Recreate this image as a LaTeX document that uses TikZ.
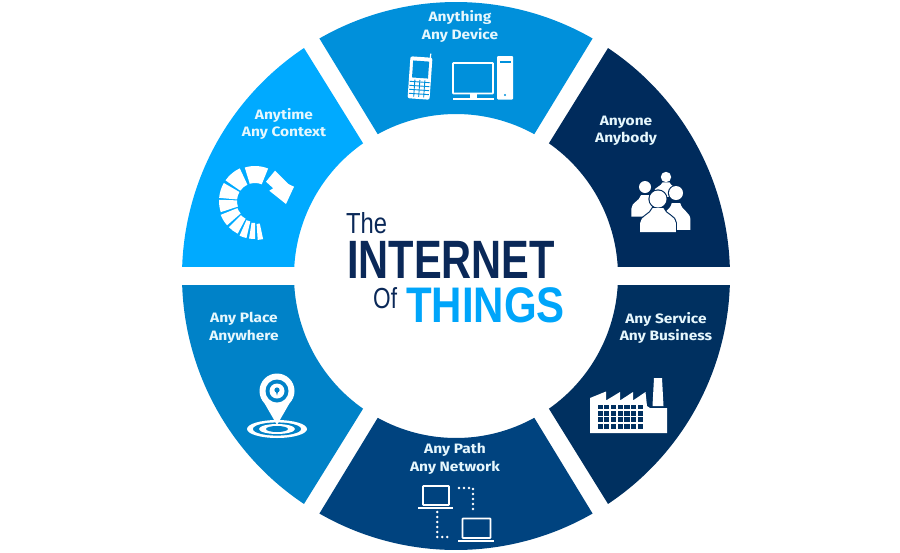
\documentclass[tikz,border=0pt]{standalone}
\usepackage{fontspec}
\usepackage{tikz}
\newfontfamily\titlefont{Liberation Sans}
\newfontfamily\labelfont{Fira Sans}
\definecolor{topblue}{RGB}{0,144,219}
\definecolor{skyblue}{RGB}{0,170,255}
\definecolor{navy}{RGB}{0,43,92}
\definecolor{navytwo}{RGB}{0,48,96}
\definecolor{midblue}{RGB}{0,67,127}
\definecolor{placeblue}{RGB}{0,130,200}
\definecolor{titledark}{RGB}{10,40,88}
\definecolor{titlesky}{RGB}{0,165,250}
\tikzset{
        partlabel/.style={align=center,text=white!90!cyan,inner sep=0,xscale=1.14,transform shape,font=\labelfont\bfseries\fontsize{13.6}{17.5}\selectfont},
        titleword/.style={anchor=base west,inner sep=0,transform shape},
        outline/.style={draw=white,line width=1.6,rounded corners=0.6},
        dots/.style={draw=white,line width=2.8,line cap=round,dash pattern=on 0pt off 5pt}
}
% one part of the ring: colour, outer angles, inner angles
\newcommand{\ringpart}[5]{\fill[#1] (#2:274) arc[start angle=#2,end angle=#3,radius=274] -- (#5:162) arc[start angle=#5,end angle=#4,radius=162] -- cycle;}
% head at (#1,#2), body scaled by #3 and #4, head radius #5
\newcommand{\person}[5]{\begin{scope}[shift={(#1,#2)}]
        \draw[navy,fill=navy,line width=2.2] (-17*#3,33*#4) -- (-17*#3,24*#4) .. controls (-17*#3,17*#4) and (-7*#3,16*#4) .. (-5*#3,9*#4) -- (5*#3,9*#4) .. controls (7*#3,16*#4) and (17*#3,17*#4) .. (17*#3,24*#4) -- (17*#3,33*#4) -- cycle (0,0) circle[radius=#5];
        \fill[white] (-17*#3,33*#4) -- (-17*#3,24*#4) .. controls (-17*#3,17*#4) and (-7*#3,16*#4) .. (-5*#3,9*#4) -- (5*#3,9*#4) .. controls (7*#3,16*#4) and (17*#3,17*#4) .. (17*#3,24*#4) -- (17*#3,33*#4) -- cycle;
        \fill[white] (0,0) circle[radius=#5];
\end{scope}}
\begin{document}
\begin{tikzpicture}[x=1pt,y=-1pt]
        \useasboundingbox (0,0) rectangle (900,552);
        \begin{scope}[shift={(456,276)},y=1pt]
                \ringpart{topblue}{60.1}{119.9}{61.1}{118.9}
                \ringpart{navy}{1.9}{56.3}{3.2}{55}
                \ringpart{skyblue}{123.7}{178.1}{125}{176.8}
                \ringpart{placeblue}{181.9}{236.3}{183.2}{235}
                \ringpart{midblue}{240.1}{299.9}{241.1}{298.9}
                \ringpart{navytwo}{303.7}{358.1}{305}{356.8}
        \end{scope}

        \node[partlabel] (anything) at (460,26.5) {Anything\\Any Device};
        \node[partlabel] (anyone) at (626,131) {Anyone\\Anybody};
        \node[partlabel] (anytime) at (284,124) {Anytime\\Any Context};
        \node[partlabel] (anyplace) at (244,328) {Any Place\\Anywhere};
        \node[partlabel] (anypath) at (455,459) {Any Path\\Any Network};
        \node[partlabel] (anyservice) at (666,328) {Any Service\\Any Business};

        \node[titleword,xscale=.82,text=titledark,font=\titlefont\fontsize{29}{29}\selectfont] (the) at (346,233) {The};
        \node[titleword,xscale=.77,text=titledark,font=\titlefont\bfseries\fontsize{54}{54}\selectfont] (internet) at (347,278) {INTERNET};
        \node[titleword,xscale=.78,text=titledark,font=\titlefont\fontsize{29}{29}\selectfont] (of) at (373,308) {Of};
        \node[titleword,xscale=.84,text=titlesky,font=\titlefont\bfseries\fontsize{50}{50}\selectfont] (things) at (406,322) {THINGS};

        % phone
        \begin{scope}[rotate around={-4:(420,78)}]
                \draw[white,line width=1.2] (429,58) -- (429,53);
                \fill[white,rounded corners=2] (409,57) rectangle (431,99);
                \fill[topblue] (412,61) rectangle (428,78);
                \foreach \y in {82,86,90,94}
                        \draw[topblue,line width=.9] (410,\y) -- (430,\y);
                \foreach \x in {415,420,425}
                        \draw[topblue,line width=.9] (\x,80) -- (\x,97);
        \end{scope}
        % desktop
        \draw[outline] (453,63) rectangle (493,93.5);
        \fill[white] (470,94) rectangle (477,98);
        \fill[white] (453,97.5) rectangle (494,99.5);
        \fill[white,rounded corners=1] (497,56) rectangle (513,99.5);
        \fill[topblue] (500,60.5) rectangle (511,63);
        \fill[topblue] (505,95) circle[radius=1.2];

        % people
        \person{666}{177}{.7}{.6}{5.2}
        \person{645}{187}{.8}{.9}{6}
        \person{676}{193}{.85}{1.12}{7}
        \person{658}{199}{1.05}{1}{8.5}

        % factory
        \fill[white] (590,433) -- (590,398) -- (606,391.5) -- (606,400.5) -- (620,392) -- (620,400.5) -- (633,392) -- (633,400.5) -- (645.5,392) -- (647,406) -- (650,408) -- (667,408) -- (667,433) -- cycle;
        \fill[white] (654,378) -- (662,378) -- (663.5,406) -- (652.5,406) -- cycle;
        \foreach \x in {0,...,6}
                \foreach \y in {0,...,3}
                        \fill[navytwo] (597.5+\x*6.7,404.5+\y*6.4) rectangle +(5.2,4.8);

        % laptops and the dotted links
        \draw[outline] (423,486) rectangle (449,505);
        \draw[white,line width=1.6] (418,507.8) -- (453,507.8);
        \draw[outline] (462.5,518.5) rectangle (490.5,538);
        \draw[white,line width=1.6] (458,540.8) -- (494,540.8);
        \draw[dots] (437.3,512) -- (437.3,537) -- (450,537);
        \draw[dots] (459,488) -- (473,488) -- (473,512.5);

        % location pin
        \fill[white] (277,429) ellipse[x radius=30,y radius=9];
        \fill[placeblue] (277,429) ellipse[x radius=24,y radius=6.6];
        \fill[white] (277,429) ellipse[x radius=18,y radius=5];
        \fill[placeblue] (277,429) ellipse[x radius=11,y radius=3];
        \fill[white] (277,391) circle[radius=17.5];
        \fill[white] (261.5,398) -- (277,425) -- (292.5,398) -- cycle;
        \fill[placeblue] (277,391) circle[radius=11.5];
        \fill[white] (277,391) circle[radius=7.5];
        \fill[placeblue] (277,390) circle[radius=2.6];
        \fill[placeblue] (275.6,390) -- (278.4,390) -- (277,395.5) -- cycle;

        % spiral of slices with its arrow
        \begin{scope}[shift={(255,201)},y=1pt]
                \foreach \a/\b/\r/\R in {-86/-78/23/39,-99/-90/22/38,-114/-103/21/38,-135/-118/20/37,-158/-139/19/37,-182/-162/18/36,150/175/18/36,115/145/18/36,68/107/18/35}
                        \fill[white] (\a:\r) arc[start angle=\a,end angle=\b,radius=\r] -- (\b:\R) arc[start angle=\b,end angle=\a,radius=\R] -- cycle;
        \end{scope}
        \fill[white] (275,170.7) -- (288.3,184) -- (294,186.7) -- (286,204) -- (269.3,190.7) -- (273.3,188.3) -- (266,181.7) -- cycle;
\end{tikzpicture}
\end{document}
